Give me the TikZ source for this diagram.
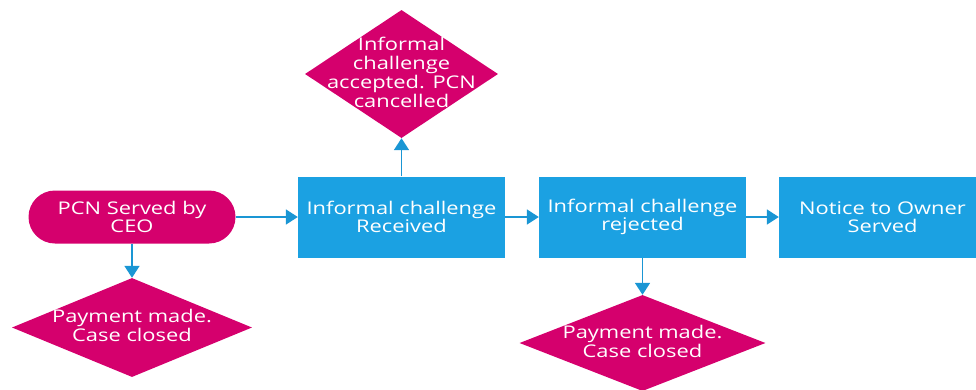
\documentclass[tikz,border=0pt]{standalone}
\usepackage{fontspec}
\setmainfont{Open Sans}[FakeStretch=1.25]
\usetikzlibrary{arrows.meta,shapes.geometric}
\definecolor{pcnpink}{HTML}{D5006D}
\definecolor{pcnblue}{HTML}{1BA1E2}
\definecolor{arrblue}{HTML}{1A96D4}
\tikzset{
  flownode/.style = {align=center, inner sep=0pt, text centered, white, font=\fontsize{17.5}{18.5}\selectfont},
  flow_box/.style = {flownode, rectangle, fill=pcnblue, minimum width=207pt, minimum height=81pt},
  flow_pill/.style = {flownode, rectangle, rounded corners=26.5pt, fill=pcnpink, minimum width=207pt, minimum height=53pt},
  flow_dia/.style = {flownode, diamond, fill=pcnpink},
  flow_arr/.style = {draw=arrblue, line width=1.8pt, -{Triangle[length=12pt,width=15pt]}},
}
\newcommand{\dtext}[1]{\makebox[0pt]{\raisebox{-0.3em}[0pt][0pt]{\begin{tabular}{@{}c@{}}#1\end{tabular}}}}

\begin{document}
\begin{tikzpicture}[x=1pt, y=-1pt]
  \useasboundingbox (0,0) rectangle (976,389);
  \node [flow_pill] (pcn) at (132,217) {PCN Served by\\CEO};
  \node [flow_dia, minimum width=240pt, minimum height=99pt] (pay_a) at (132,327.5) {\dtext{Payment made.\\Case closed}};
  \node [flow_box] (recv) at (401.5,217) {Informal challenge\\Received};
  \node [flow_dia, minimum width=193pt, minimum height=128pt] (accept) at (401.5,74) {\dtext{Informal\\challenge\\accepted. PCN\\cancelled}};
  \node [flow_box] (reject) at (642.5,217) {Informal challenge\\rejected};
  \node [flow_dia, minimum width=246pt, minimum height=96pt] (pay_b) at (642.5,343) {\dtext{Payment made.\\Case closed}};
  \node [flow_box] (nto) at (882.5,217) {Notice to Owner\\Served};
  \draw [flow_arr] (pcn) -- (recv);
  \draw [flow_arr] (pcn) -- (pay_a);
  \draw [flow_arr] (recv) -- (accept);
  \draw [flow_arr] (recv) -- (reject);
  \draw [flow_arr] (reject) -- (pay_b);
  \draw [flow_arr] (reject) -- (nto);
\end{tikzpicture}
\end{document}
